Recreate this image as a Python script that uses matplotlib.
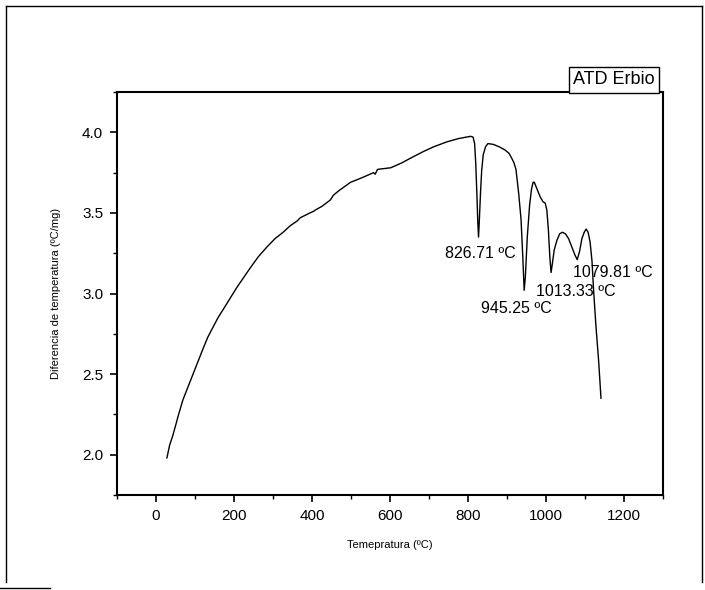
import matplotlib
matplotlib.use("Agg")
import matplotlib.pyplot as plt
from matplotlib.ticker import MultipleLocator
from matplotlib.lines import Line2D

plt.rcParams['font.family'] = ['Liberation Sans', 'DejaVu Sans']

temperature = [28, 35, 42, 49, 58, 69, 82, 95, 108, 121, 133, 146, 159, 172, 190, 208, 225,
               242, 263, 285, 305, 326, 344, 362, 370, 395, 404, 410, 425, 447, 455, 470,
               499, 530, 558, 562, 568, 585, 602, 630, 653, 685, 712, 745, 774, 795, 807,
               813, 817, 820, 823, 825, 827, 829, 832, 835, 839, 845, 851, 865, 880, 895,
               905, 912, 918, 923, 930, 936, 941, 944, 947, 952, 958, 963, 967, 970, 975,
               985, 992, 998, 1002, 1006, 1010, 1013, 1016, 1021, 1028, 1035, 1042, 1050,
               1058, 1066, 1074, 1080, 1086, 1092, 1098, 1103, 1108, 1113, 1118, 1122,
               1128, 1135, 1141]
signal = [1.98, 2.06, 2.11, 2.17, 2.25, 2.34, 2.42, 2.50, 2.58, 2.66, 2.73, 2.79, 2.85, 2.90,
          2.97, 3.04, 3.10, 3.16, 3.23, 3.29, 3.34, 3.38, 3.42, 3.45, 3.47, 3.50, 3.51, 3.52,
          3.54, 3.58, 3.61, 3.64, 3.69, 3.72, 3.75, 3.74, 3.77, 3.775, 3.78, 3.81, 3.84, 3.88,
          3.91, 3.94, 3.96, 3.97, 3.975, 3.97, 3.93, 3.80, 3.60, 3.45, 3.35, 3.45, 3.62,
          3.76, 3.86, 3.91, 3.93, 3.925, 3.91, 3.89, 3.87, 3.84, 3.81, 3.77, 3.62, 3.46,
          3.20, 3.02, 3.10, 3.35, 3.55, 3.65, 3.69, 3.69, 3.66, 3.60, 3.57, 3.56, 3.52,
          3.40, 3.22, 3.13, 3.18, 3.27, 3.33, 3.37, 3.38, 3.37, 3.34, 3.29, 3.24, 3.21,
          3.26, 3.34, 3.38, 3.40, 3.38, 3.32, 3.20, 3.02, 2.80, 2.58, 2.35]

peak_labels = ["826.71 \u00baC", "945.25 \u00baC", "1013.33 \u00baC", "1079.81 \u00baC"]
peak_label_x = [740, 833, 974, 1069]
peak_label_y = [3.25, 2.91, 3.01, 3.13]

fig = plt.figure(figsize=(7.05, 5.9), dpi=100)
ax = fig.add_axes([117/705, 1-495/590, (663-117)/705, (495-92)/590])

ax.plot(temperature, signal, color='black', linewidth=1.0)

for lab, lx, ly in zip(peak_labels, peak_label_x, peak_label_y):
    ax.text(lx, ly, lab, ha='left', va='center', fontsize=11.5)

ax.set_xlim(-100, 1300)
ax.set_ylim(1.75, 4.25)
ax.xaxis.set_major_locator(MultipleLocator(200))
ax.xaxis.set_minor_locator(MultipleLocator(100))
ax.yaxis.set_major_locator(MultipleLocator(0.5))
ax.yaxis.set_minor_locator(MultipleLocator(0.25))
ax.yaxis.set_major_formatter(matplotlib.ticker.FormatStrFormatter('%.1f'))
ax.tick_params(which='major', direction='out', length=5, width=1.2, labelsize=11, pad=5)
ax.tick_params(which='minor', direction='out', length=3, width=1.0)
for s in ax.spines.values():
    s.set_linewidth(1.5)

ax.set_xlabel("Temepratura (\u00baC)", fontsize=8, labelpad=12)
ax.set_ylabel("Diferencia de temperatura (\u00baC/mg)", fontsize=8, labelpad=15)

fig.text(614/705, 1-80/590, "ATD Erbio", ha='center', va='center', fontsize=13,
         bbox=dict(boxstyle='square,pad=0.25', facecolor='white', edgecolor='black', linewidth=1.0))

# outer frame
fx0, fx1 = 6/705, 702/705
fy0, fy1 = 1-582/590, 1-6/590
for xs, ys in [([fx0, fx1], [fy1, fy1]), ([fx0, fx0], [fy0, fy1]), ([fx1, fx1], [fy0, fy1]),
               ([0, 50/705], [1-588/590, 1-588/590])]:
    fig.add_artist(Line2D(xs, ys, transform=fig.transFigure, color='black', linewidth=1.0))

fig.savefig("out.png", dpi=100)
